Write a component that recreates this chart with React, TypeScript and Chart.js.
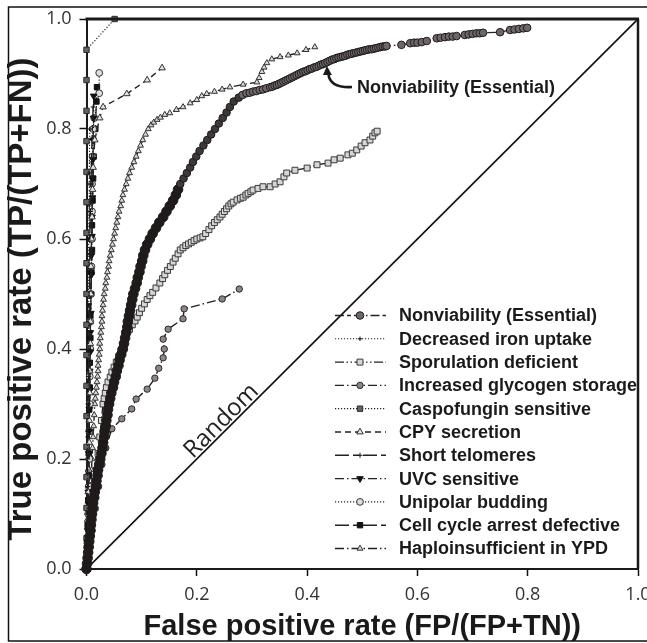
import React, { useEffect, useRef } from 'react';
import { Chart, registerables } from 'chart.js';

Chart.register(...registerables);

type Pt = [number, number];

const seriesNames = [
  'Nonviability (Essential)',
  'Decreased iron uptake',
  'Sporulation deficient',
  'Increased glycogen storage',
  'Caspofungin sensitive',
  'CPY secretion',
  'Short telomeres',
  'UVC sensitive',
  'Unipolar budding',
  'Cell cycle arrest defective',
  'Haploinsufficient in YPD',
];

const axisTicks = [0, 0.2, 0.4, 0.6, 0.8, 1.0];
const xTitle = 'False positive rate (FP/(FP+TN))';
const yTitle = 'True positive rate (TP/(TP+FN))';
const randomLabel = 'Random';
const randomLabelAt = 0.257;
const calloutLabel = 'Nonviability (Essential)';
const calloutAt: Pt = [0.436, 0.9145];

const nonviability: Pt[] = [
  [0, 0], [0.001, 0.01], [0.002, 0.02], [0.003, 0.03], [0.004, 0.04], [0.005, 0.05], [0.006, 0.06],
  [0.007, 0.07], [0.008, 0.08], [0.009, 0.09], [0.01, 0.1], [0.011, 0.11], [0.012, 0.12], [0.014, 0.13],
  [0.015, 0.14], [0.017, 0.15], [0.018, 0.16], [0.02, 0.17], [0.021, 0.18], [0.023, 0.19], [0.025, 0.2],
  [0.027, 0.21], [0.029, 0.22], [0.03, 0.23], [0.032, 0.24], [0.033, 0.25], [0.035, 0.26], [0.036, 0.27],
  [0.038, 0.28], [0.039, 0.29], [0.041, 0.3], [0.043, 0.31], [0.045, 0.32], [0.048, 0.33], [0.05, 0.34],
  [0.053, 0.35], [0.055, 0.36], [0.058, 0.37], [0.06, 0.38], [0.063, 0.39], [0.066, 0.4], [0.068, 0.41],
  [0.07, 0.42], [0.072, 0.43], [0.074, 0.44], [0.075, 0.45], [0.077, 0.46], [0.079, 0.47], [0.081, 0.48],
  [0.083, 0.49], [0.085, 0.5], [0.088, 0.51], [0.091, 0.52], [0.093, 0.53], [0.096, 0.54], [0.098, 0.55],
  [0.101, 0.56], [0.103, 0.57], [0.106, 0.58], [0.11, 0.59], [0.115, 0.6], [0.12, 0.61], [0.126, 0.62],
  [0.132, 0.63], [0.139, 0.64], [0.145, 0.65], [0.151, 0.66], [0.157, 0.67], [0.162, 0.68], [0.166, 0.69],
  [0.17, 0.7], [0.176, 0.71], [0.182, 0.72], [0.188, 0.73], [0.193, 0.74], [0.199, 0.75], [0.205, 0.76],
  [0.212, 0.77], [0.219, 0.78], [0.226, 0.79], [0.233, 0.8], [0.24, 0.81], [0.247, 0.82], [0.254, 0.83],
  [0.26, 0.84], [0.267, 0.85], [0.276, 0.857], [0.283, 0.862], [0.29, 0.865], [0.296, 0.866],
  [0.302, 0.868], [0.308, 0.869], [0.314, 0.871], [0.32, 0.872], [0.326, 0.874], [0.333, 0.876],
  [0.337, 0.877], [0.341, 0.879], [0.345, 0.88], [0.349, 0.882], [0.353, 0.884], [0.357, 0.886],
  [0.361, 0.888], [0.365, 0.89], [0.369, 0.892], [0.373, 0.894], [0.377, 0.896], [0.381, 0.898],
  [0.385, 0.9], [0.389, 0.902], [0.393, 0.904], [0.397, 0.905], [0.401, 0.907], [0.405, 0.909],
  [0.409, 0.91], [0.413, 0.912], [0.417, 0.913], [0.421, 0.915], [0.425, 0.917], [0.429, 0.918],
  [0.433, 0.92], [0.437, 0.922], [0.441, 0.924], [0.445, 0.926], [0.449, 0.927], [0.453, 0.929],
  [0.457, 0.93], [0.461, 0.931], [0.465, 0.932], [0.469, 0.933], [0.473, 0.935], [0.477, 0.936],
  [0.481, 0.937], [0.485, 0.938], [0.489, 0.939], [0.493, 0.94], [0.497, 0.941], [0.501, 0.942],
  [0.505, 0.943], [0.509, 0.944], [0.513, 0.945], [0.517, 0.945], [0.521, 0.946], [0.525, 0.947],
  [0.529, 0.948], [0.533, 0.949], [0.537, 0.95], [0.541, 0.95], [0.544, 0.951], [0.571, 0.953],
  [0.587, 0.956], [0.594, 0.957], [0.6, 0.957], [0.608, 0.958], [0.617, 0.96], [0.635, 0.965],
  [0.642, 0.966], [0.65, 0.967], [0.657, 0.968], [0.664, 0.968], [0.671, 0.969], [0.686, 0.971],
  [0.693, 0.972], [0.7, 0.973], [0.707, 0.974], [0.713, 0.974], [0.719, 0.975], [0.75, 0.976],
  [0.768, 0.98], [0.776, 0.981], [0.784, 0.982], [0.792, 0.983], [0.799, 0.984],
];

const decreasedIron: Pt[] = [
  [0, 0], [0.001, 0.06], [0.001, 0.12], [0.002, 0.18], [0.002, 0.24], [0.003, 0.3], [0.003, 0.36],
  [0.004, 0.42], [0.004, 0.48], [0.004, 0.54], [0.004, 0.6], [0.005, 0.66], [0.005, 0.72], [0.006, 0.8],
];

const sporulation: Pt[] = [
  [0, 0], [0.003, 0.03], [0.006, 0.06], [0.009, 0.09], [0.012, 0.12], [0.015, 0.15], [0.018, 0.18],
  [0.021, 0.21], [0.024, 0.24], [0.027, 0.27], [0.03, 0.3], [0.032, 0.31], [0.034, 0.32], [0.036, 0.33],
  [0.039, 0.34], [0.043, 0.349], [0.046, 0.358], [0.05, 0.367], [0.054, 0.376], [0.058, 0.386],
  [0.062, 0.396], [0.066, 0.406], [0.07, 0.418], [0.073, 0.429], [0.078, 0.436], [0.083, 0.444],
  [0.088, 0.451], [0.092, 0.458], [0.096, 0.466], [0.1, 0.474], [0.105, 0.482], [0.11, 0.49],
  [0.115, 0.497], [0.12, 0.503], [0.126, 0.511], [0.133, 0.52], [0.138, 0.528], [0.142, 0.535],
  [0.147, 0.543], [0.152, 0.55], [0.157, 0.558], [0.161, 0.565], [0.166, 0.573], [0.17, 0.58],
  [0.175, 0.584], [0.18, 0.588], [0.185, 0.591], [0.19, 0.594], [0.195, 0.597], [0.2, 0.6],
  [0.206, 0.602], [0.211, 0.604], [0.216, 0.61], [0.222, 0.617], [0.227, 0.624], [0.232, 0.63],
  [0.237, 0.635], [0.242, 0.64], [0.246, 0.645], [0.25, 0.65], [0.254, 0.655], [0.258, 0.66],
  [0.262, 0.664], [0.266, 0.667], [0.273, 0.671], [0.279, 0.674], [0.284, 0.676], [0.289, 0.68],
  [0.293, 0.683], [0.298, 0.686], [0.302, 0.689], [0.311, 0.692], [0.32, 0.695], [0.333, 0.695],
  [0.342, 0.7], [0.351, 0.704], [0.358, 0.713], [0.363, 0.72], [0.378, 0.725], [0.4, 0.729],
  [0.418, 0.735], [0.438, 0.738], [0.449, 0.744], [0.46, 0.747], [0.474, 0.753], [0.482, 0.756],
  [0.49, 0.762], [0.498, 0.769], [0.505, 0.775], [0.514, 0.78], [0.519, 0.787], [0.523, 0.793],
  [0.527, 0.796],
];

const glycogen: Pt[] = [
  [0, 0], [0.004, 0.03], [0.01, 0.07], [0.016, 0.11], [0.022, 0.15], [0.028, 0.19], [0.035, 0.22],
  [0.046, 0.255], [0.064, 0.273], [0.082, 0.291], [0.09, 0.309], [0.11, 0.327], [0.124, 0.347],
  [0.131, 0.365], [0.139, 0.384], [0.141, 0.4], [0.139, 0.418], [0.148, 0.436], [0.175, 0.455],
  [0.177, 0.473], [0.246, 0.491], [0.277, 0.509],
];

const caspofungin: Pt[] = [
  [0, 0], [0, 0.056], [0, 0.111], [0, 0.167], [0, 0.222], [0, 0.278], [0, 0.333], [0, 0.389],
  [0, 0.444], [0, 0.5], [0, 0.556], [0, 0.611], [0, 0.667], [0, 0.722], [0, 0.778], [0, 0.833],
  [0, 0.889], [0, 0.944], [0.051, 1.0],
];

const cpySecretion: Pt[] = [
  [0, 0], [0.001, 0.05], [0.002, 0.09], [0.003, 0.14], [0.004, 0.18], [0.005, 0.23], [0.005, 0.27],
  [0.006, 0.32], [0.006, 0.36], [0.007, 0.41], [0.007, 0.45], [0.008, 0.5], [0.008, 0.55], [0.009, 0.6],
  [0.01, 0.64], [0.011, 0.69], [0.012, 0.73], [0.015, 0.78], [0.024, 0.82], [0.03, 0.84],
  [0.073, 0.864], [0.11, 0.889], [0.137, 0.911],
];

const shortTelomeres: Pt[] = [
  [0, 0], [0.001, 0.05], [0.001, 0.1], [0.002, 0.15], [0.002, 0.2], [0.003, 0.25], [0.003, 0.3],
  [0.004, 0.35], [0.004, 0.4], [0.005, 0.45], [0.005, 0.5], [0.006, 0.55], [0.006, 0.6], [0.007, 0.65],
  [0.008, 0.7], [0.009, 0.74], [0.01, 0.78], [0.012, 0.84],
];

const uvcSensitive: Pt[] = [
  [0, 0], [0.001, 0.035], [0.002, 0.07], [0.003, 0.105], [0.003, 0.14], [0.004, 0.175], [0.004, 0.21],
  [0.005, 0.25], [0.005, 0.29], [0.006, 0.325], [0.006, 0.36], [0.007, 0.395], [0.007, 0.43],
  [0.008, 0.465], [0.008, 0.5], [0.009, 0.535], [0.009, 0.57], [0.01, 0.605], [0.01, 0.64],
  [0.011, 0.675], [0.011, 0.71], [0.012, 0.745], [0.012, 0.78], [0.013, 0.82], [0.013, 0.86],
];

const unipolar: Pt[] = [
  [0, 0], [0.002, 0.05], [0.003, 0.1], [0.004, 0.15], [0.005, 0.2], [0.005, 0.25], [0.006, 0.3],
  [0.006, 0.35], [0.007, 0.4], [0.007, 0.45], [0.008, 0.5], [0.009, 0.55], [0.01, 0.6], [0.01, 0.65],
  [0.01, 0.7], [0.011, 0.75], [0.012, 0.8], [0.014, 0.82], [0.023, 0.865], [0.023, 0.902],
];

const cellCycle: Pt[] = [
  [0, 0], [0.001, 0.04], [0.002, 0.08], [0.003, 0.125], [0.004, 0.17], [0.004, 0.21], [0.005, 0.25],
  [0.005, 0.29], [0.006, 0.33], [0.006, 0.375], [0.007, 0.42], [0.007, 0.46], [0.008, 0.5],
  [0.009, 0.54], [0.01, 0.58], [0.01, 0.625], [0.011, 0.67], [0.012, 0.71], [0.013, 0.75],
  [0.016, 0.8], [0.018, 0.85], [0.019, 0.876],
];

const haploinsufficient: Pt[] = [
  [0, 0], [0.001, 0.02], [0.002, 0.04], [0.003, 0.06], [0.004, 0.08], [0.005, 0.1], [0.006, 0.12],
  [0.007, 0.14], [0.008, 0.16], [0.009, 0.18], [0.01, 0.2], [0.011, 0.22], [0.012, 0.24],
  [0.013, 0.26], [0.014, 0.28], [0.015, 0.3], [0.016, 0.31], [0.017, 0.32], [0.018, 0.33],
  [0.019, 0.34], [0.02, 0.35], [0.021, 0.36], [0.021, 0.37], [0.022, 0.38], [0.023, 0.39],
  [0.024, 0.4], [0.024, 0.41], [0.025, 0.42], [0.026, 0.43], [0.027, 0.44], [0.028, 0.45],
  [0.028, 0.46], [0.029, 0.47], [0.03, 0.48], [0.031, 0.49], [0.032, 0.5], [0.034, 0.51],
  [0.035, 0.52], [0.037, 0.53], [0.038, 0.54], [0.04, 0.55], [0.041, 0.56], [0.043, 0.57],
  [0.045, 0.58], [0.047, 0.59], [0.049, 0.6], [0.051, 0.61], [0.053, 0.62], [0.055, 0.63],
  [0.057, 0.64], [0.059, 0.65], [0.062, 0.66], [0.064, 0.67], [0.066, 0.68], [0.069, 0.69],
  [0.072, 0.7], [0.075, 0.71], [0.078, 0.72], [0.082, 0.73], [0.086, 0.74], [0.09, 0.75],
  [0.094, 0.76], [0.098, 0.77], [0.102, 0.78], [0.107, 0.79], [0.112, 0.8], [0.117, 0.807],
  [0.122, 0.812], [0.128, 0.817], [0.134, 0.821], [0.142, 0.826], [0.151, 0.829], [0.163, 0.835],
  [0.175, 0.84], [0.188, 0.847], [0.2, 0.853], [0.209, 0.86], [0.218, 0.864], [0.232, 0.868],
  [0.246, 0.872], [0.26, 0.876], [0.284, 0.881], [0.309, 0.885], [0.313, 0.893], [0.318, 0.904],
  [0.322, 0.912], [0.327, 0.92], [0.336, 0.927], [0.351, 0.931], [0.366, 0.934], [0.382, 0.938],
  [0.398, 0.944], [0.414, 0.949],
];

const randomLine: Pt[] = [[0, 0], [1, 1]];

const seriesData: Pt[][] = [
  nonviability, decreasedIron, sporulation, glycogen, caspofungin, cpySecretion,
  shortTelomeres, uvcSensitive, unipolar, cellCycle, haploinsufficient,
];

type Sty = { fill: string; stroke: string; shape: string; r: number; rot?: number; dash: number[]; lw: number };

const seriesStyles: Sty[] = [
  { fill: '#6f6767', stroke: '#1e1a1a', shape: 'circle', r: 3.8, dash: [9, 3, 4, 3, 9, 3, 1.5, 3], lw: 1.4 },
  { fill: '#111', stroke: '#111', shape: 'cross', r: 2.2, dash: [1.2, 1.8], lw: 1.1 },
  { fill: '#d6d6d6', stroke: '#3a3a3a', shape: 'rect', r: 4.2, dash: [9, 2.5, 1.5, 2.5, 1.5, 2.5], lw: 1.4 },
  { fill: '#8e8686', stroke: '#2e2a2a', shape: 'circle', r: 3.2, dash: [9, 3, 1.5, 3], lw: 1.4 },
  { fill: '#6a6262', stroke: '#2e2a2a', shape: 'rect', r: 3.8, dash: [1.2, 1.8], lw: 1.2 },
  { fill: '#e4e4e4', stroke: '#333', shape: 'triangle', r: 3.8, dash: [6, 4], lw: 1.4 },
  { fill: '#111', stroke: '#111', shape: 'cross', r: 2.5, dash: [14, 4, 6, 4], lw: 1.4 },
  { fill: '#111', stroke: '#111', shape: 'triangle', rot: 180, r: 3.8, dash: [9, 3, 1.5, 3], lw: 1.4 },
  { fill: '#dedede', stroke: '#333', shape: 'circle', r: 3.4, dash: [1.2, 1.8], lw: 1.2 },
  { fill: '#111', stroke: '#111', shape: 'rect', r: 3.8, dash: [14, 4, 6, 4], lw: 1.4 },
  { fill: '#d8d8d8', stroke: '#333', shape: 'triangle', r: 3.4, dash: [9, 3, 1.5, 3], lw: 1.4 },
];

function drawMarker(ctx: CanvasRenderingContext2D, st: Sty, x: number, y: number) {
  ctx.save();
  ctx.setLineDash([]);
  ctx.fillStyle = st.fill;
  ctx.strokeStyle = st.stroke;
  ctx.lineWidth = 1;
  const r = st.r;
  ctx.beginPath();
  if (st.shape === 'circle') {
    ctx.arc(x, y, r, 0, Math.PI * 2);
    ctx.fill();
    ctx.stroke();
  } else if (st.shape === 'rect') {
    const s = r * Math.SQRT1_2;
    ctx.rect(x - s, y - s, 2 * s, 2 * s);
    ctx.fill();
    ctx.stroke();
  } else if (st.shape === 'triangle') {
    let rad = ((st.rot || 0) * Math.PI) / 180;
    for (let k = 0; k < 3; k++) {
      rad += (2 * Math.PI) / 3;
      const px = x + Math.sin(rad) * r;
      const py = y - Math.cos(rad) * r;
      if (k === 0) ctx.moveTo(px, py);
      else ctx.lineTo(px, py);
    }
    ctx.closePath();
    ctx.fill();
    ctx.stroke();
  } else {
    ctx.moveTo(x - r, y);
    ctx.lineTo(x + r, y);
    ctx.moveTo(x, y - r);
    ctx.lineTo(x, y + r);
    ctx.stroke();
  }
  ctx.restore();
}

const decorations = {
  id: 'decorations',
  afterDraw(chart: any) {
    const { ctx, chartArea: ca, scales } = chart;
    const xs = scales.x;
    const ys = scales.y;
    ctx.save();
    // outer frame
    ctx.strokeStyle = '#111';
    ctx.lineWidth = 1.5;
    ctx.beginPath();
    ctx.moveTo(647, 7);
    ctx.lineTo(8.5, 7);
    ctx.lineTo(8.5, 641);
    ctx.lineTo(647, 641);
    ctx.stroke();
    // plot box top & right
    ctx.strokeStyle = '#1a1a1a';
    ctx.lineWidth = 3;
    ctx.beginPath();
    ctx.moveTo(ca.left - 1, ca.top);
    ctx.lineTo(ca.right + 1, ca.top);
    ctx.stroke();
    ctx.lineWidth = 2.5;
    ctx.beginPath();
    ctx.moveTo(ca.right, ca.top);
    ctx.lineTo(ca.right, ca.bottom);
    ctx.stroke();

    // y axis title
    ctx.save();
    ctx.translate(21.5, (ca.top + ca.bottom) / 2 + 5);
    ctx.rotate(-Math.PI / 2);
    ctx.font = 'bold 33px "Liberation Sans", Arial, sans-serif';
    ctx.fillStyle = '#1a1a1a';
    ctx.textAlign = 'center';
    ctx.textBaseline = 'middle';
    ctx.fillText(yTitle, 0, 0);
    ctx.restore();

    // Random label along the diagonal
    const p0x = xs.getPixelForValue(0), p0y = ys.getPixelForValue(0);
    const p1x = xs.getPixelForValue(1), p1y = ys.getPixelForValue(1);
    const ang = Math.atan2(p1y - p0y, p1x - p0x);
    ctx.save();
    ctx.translate(xs.getPixelForValue(randomLabelAt), ys.getPixelForValue(randomLabelAt));
    ctx.rotate(ang);
    ctx.font = '24px "Open Sans", sans-serif';
    ctx.fillStyle = '#222';
    ctx.textAlign = 'center';
    ctx.textBaseline = 'alphabetic';
    ctx.fillText(randomLabel, 0, -2.5);
    ctx.restore();

    // callout
    const tx = xs.getPixelForValue(calloutAt[0]);
    const ty = ys.getPixelForValue(calloutAt[1]);
    ctx.strokeStyle = '#1a1a1a';
    ctx.lineWidth = 2.6;
    ctx.beginPath();
    ctx.moveTo(tx + 25, ty + 21);
    ctx.quadraticCurveTo(tx + 3, ty + 22, tx + 1.5, ty + 8);
    ctx.stroke();
    ctx.fillStyle = '#1a1a1a';
    ctx.beginPath();
    ctx.moveTo(tx, ty);
    ctx.lineTo(tx - 4, ty + 9);
    ctx.lineTo(tx + 5, ty + 9);
    ctx.closePath();
    ctx.fill();
    ctx.font = 'bold 18px "Liberation Sans", Arial, sans-serif';
    ctx.textAlign = 'left';
    ctx.textBaseline = 'alphabetic';
    ctx.fillText(calloutLabel, tx + 30, ty + 27);

    // legend
    seriesNames.forEach((name, i) => {
      const st = seriesStyles[i];
      const y = 315.5 + i * 23.3;
      ctx.save();
      ctx.strokeStyle = '#222';
      ctx.lineWidth = st.lw;
      ctx.setLineDash(st.dash);
      ctx.beginPath();
      ctx.moveTo(335, y);
      ctx.lineTo(386, y);
      ctx.stroke();
      ctx.restore();
      drawMarker(ctx, st, 360, y);
      ctx.fillStyle = '#1a1a1a';
      ctx.font = 'bold 18px "Liberation Sans", Arial, sans-serif';
      ctx.textAlign = 'left';
      ctx.textBaseline = 'middle';
      ctx.fillText(name, 399, y + 1);
    });
    ctx.restore();
  },
};

export default function App() {
  const ref = useRef<HTMLCanvasElement>(null);
  useEffect(() => {
    const canvas = ref.current;
    if (!canvas) return;
    const datasets: any[] = seriesData.map((pts, i) => {
      const st = seriesStyles[i];
      const isMain = i === 0;
      return {
        label: seriesNames[i],
        data: pts.map(([x, y]) => ({ x, y })),
        showLine: true,
        borderColor: '#222',
        borderWidth: st.lw,
        borderDash: st.dash,
        pointStyle: st.shape,
        pointRotation: st.rot || 0,
        pointRadius: isMain
          ? (c: any) => (c.raw && c.raw.y < 0.7 ? 4.8 : st.r)
          : st.r,
        pointBackgroundColor: isMain
          ? (c: any) => {
              const v = c.raw ? c.raw.y : 1;
              return v < 0.7 ? '#1f1b1b' : v < 0.86 ? '#3e3838' : st.fill;
            }
          : st.fill,
        pointBorderColor: st.stroke,
        pointBorderWidth: 1,
        clip: 14,
      };
    });
    datasets.push({
      label: 'Random',
      data: randomLine.map(([x, y]) => ({ x, y })),
      showLine: true,
      borderColor: '#111',
      borderWidth: 1.6,
      pointRadius: 0,
      order: 50,
    });
    const tickFont = { family: '"Open Sans", sans-serif', size: 18 };
    const chart = new Chart(canvas, {
      type: 'scatter',
      data: { datasets },
      plugins: [decorations],
      options: {
        animation: false,
        responsive: false,
        devicePixelRatio: 1,
        layout: { padding: { left: 0, right: 9, top: 19, bottom: 0 } },
        plugins: { legend: { display: false }, tooltip: { enabled: false } },
        scales: {
          x: {
            type: 'linear',
            min: 0,
            max: 1,
            afterBuildTicks: (s: any) => {
              s.ticks = axisTicks.map((v) => ({ value: v }));
            },
            ticks: {
              callback: (v: any) => Number(v).toFixed(1),
              font: tickFont,
              color: '#333',
              padding: 8,
              maxRotation: 0,
              autoSkip: false,
            },
            grid: { drawOnChartArea: false, tickLength: 7, tickWidth: 1.5, tickColor: '#111' },
            border: { width: 2, color: '#1a1a1a' },
            title: {
              display: true,
              text: xTitle,
              font: { family: '"Liberation Sans", Arial, sans-serif', size: 29, weight: 'bold', lineHeight: 1.1 },
              color: '#1a1a1a',
              padding: { top: 0, bottom: 0 },
            },
            afterFit: (s: any) => {
              s.height = 74;
              s.paddingLeft = 0;
              s.paddingRight = 0;
            },
          },
          y: {
            type: 'linear',
            min: 0,
            max: 1,
            afterBuildTicks: (s: any) => {
              s.ticks = axisTicks.map((v) => ({ value: v }));
            },
            ticks: {
              callback: (v: any) => Number(v).toFixed(1),
              font: tickFont,
              color: '#333',
              padding: 8,
              autoSkip: false,
            },
            grid: { drawOnChartArea: false, tickLength: 7, tickWidth: 1.5, tickColor: '#111' },
            border: { width: 2, color: '#1a1a1a' },
            title: { display: false, text: yTitle },
            afterFit: (s: any) => {
              s.width = 86.5;
              s.paddingTop = 0;
              s.paddingBottom = 0;
            },
          },
        },
      } as any,
    });
    return () => chart.destroy();
  }, []);
  return (
    <div style={{ position: 'absolute', left: 0, top: 0, width: 647, height: 643, background: '#fff' }}>
      <canvas ref={ref} width={647} height={643} style={{ display: 'block', width: 647, height: 643 }} />
    </div>
  );
}
